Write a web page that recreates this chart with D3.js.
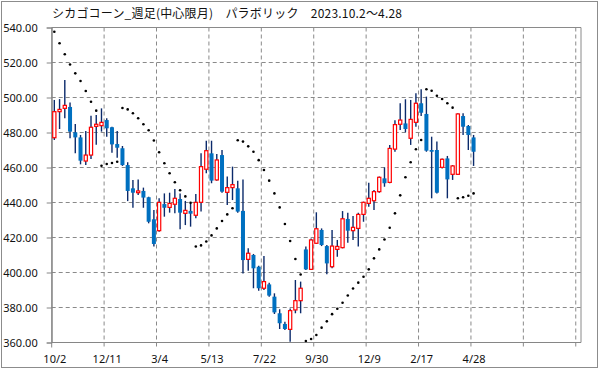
<!DOCTYPE html>
<html><head><meta charset="utf-8">
<script src="https://cdn.jsdelivr.net/npm/d3@7"></script>
<style>body{margin:0;background:#fff}svg{display:block}</style>
</head><body>
<svg id="c" width="599" height="369"></svg>
<script>
const openV =[477.0,491.9,493.8,494.6,480.1,477.2,463.7,467.1,483.5,483.9,487.1,483.0,473.4,471.0,461.4,448.1,445.6,446.6,443.0,430.4,423.9,439.1,437.2,439.0,442.0,433.8,435.2,432.7,440.1,459.0,468.1,452.9,467.1,445.8,448.5,448.1,435.2,407.5,410.0,403.3,391.0,393.2,386.2,376.7,370.6,367.5,378.6,383.9,413.2,401.8,416.7,424.3,415.1,403.3,413.2,414.2,430.6,423.9,425.2,433.2,439.5,441.0,446.2,453.8,451.5,470.5,484.7,485.2,476.7,485.8,496.7,490.6,470.0,470.0,460.1,465.2,456.1,456.1,489.4,483.7,477.2];
const highV =[498.6,499.1,510.0,497.2,484.9,478.6,480.9,489.6,490.0,493.8,488.1,483.3,480.9,472.3,463.0,452.9,453.2,448.5,443.3,435.7,442.4,445.2,445.6,447.7,445.2,440.9,439.5,444.9,468.1,475.3,475.3,467.7,470.0,454.8,460.5,452.5,453.2,413.8,410.6,403.8,409.4,394.2,388.1,379.0,371.9,379.5,395.7,394.8,414.8,419.5,434.4,425.2,415.7,424.3,418.6,435.1,434.2,432.3,434.2,440.5,451.3,447.1,454.8,460.1,472.9,487.0,496.7,499.0,498.6,502.4,504.7,500.5,477.6,474.8,465.2,466.6,461.4,491.0,491.0,484.3,478.6];
const lowV  =[475.7,482.0,488.1,476.7,468.1,461.8,461.4,464.9,473.0,480.5,477.6,468.5,465.6,460.9,440.8,437.0,444.3,437.0,428.1,414.8,423.3,431.9,434.2,433.8,424.7,427.1,426.2,431.0,434.8,456.7,451.0,452.5,445.6,438.6,441.4,434.2,399.5,401.0,391.0,389.6,390.0,386.2,376.3,367.7,367.1,360.5,376.7,376.7,401.4,401.4,416.3,415.1,399.0,402.4,409.0,413.8,417.0,418.6,414.8,429.0,437.6,435.7,445.6,449.0,451.0,469.0,481.4,480.1,472.9,483.3,489.4,469.0,442.4,445.2,459.5,442.4,452.9,455.7,478.6,470.0,460.9];
const closeV=[491.9,493.2,495.5,480.5,477.2,463.9,467.1,483.0,484.7,485.8,482.4,473.2,471.3,461.4,446.6,445.6,446.6,442.8,429.0,416.3,440.1,437.0,439.5,442.4,434.2,435.5,433.6,440.1,460.5,469.6,452.5,464.3,446.2,448.5,450.2,434.8,407.1,411.0,402.4,391.0,394.8,386.8,377.2,371.0,367.7,378.2,383.9,391.0,401.8,418.6,425.0,415.7,405.2,415.1,414.9,430.7,423.9,425.8,433.2,440.1,442.4,446.2,454.4,451.0,470.9,484.5,487.1,482.0,487.5,496.7,491.3,469.6,469.0,445.6,464.7,453.2,460.9,490.6,483.3,478.6,469.0];
const sarV  =[537.6,531.0,524.7,518.9,513.8,509.4,503.7,497.6,492.5,461.0,462.0,462.6,463.3,494.0,493.2,491.0,488.1,484.7,481.3,475.4,468.7,462.4,456.7,451.6,447.0,443.5,439.8,414.9,415.5,417.7,421.2,425.2,429.4,433.2,436.7,475.6,474.8,472.1,469.0,464.2,458.6,452.5,445.2,437.2,427.7,418.0,407.7,398.9,360.9,362.0,364.3,368.5,372.1,376.2,379.3,382.7,386.9,390.9,394.2,397.6,401.8,408.1,413.2,418.9,425.6,433.8,444.1,454.4,463.0,470.4,475.7,504.7,503.9,501.0,499.1,496.7,494.2,442.4,443.0,443.9,445.2];
const tickLabels=["10/2","12/11","3/4","5/13","7/22","9/30","12/9","2/17","4/28"];
const yTicks=[360,380,400,420,440,460,480,500,520,540];
const titleText="シカゴコーン_週足(中心限月)　パラボリック　2023.10.2～4.28";

const svg=d3.select("#c");
const L=51.7,R=581,T=27.5,B=342.5;
const nSlots=101;
const x=d3.scaleBand().domain(d3.range(nSlots)).range([L,R]).padding(0);
const bw=x.bandwidth();
const cx=i=>x(i)+bw/2;
const y=d3.scaleLinear().domain([360,540]).range([B,T]);
const grid="#8a8a8a";

svg.append("rect").attr("x",1.5).attr("y",1.5).attr("width",596).attr("height",366)
  .attr("fill","#fff").attr("stroke","#8c8c8c");

svg.append("text").attr("x",52).attr("y",18).attr("font-family","'Noto Sans CJK JP'")
  .attr("font-size",12).attr("fill","#111")
  .attr("textLength",350).attr("lengthAdjust","spacing").text(titleText);

// horizontal grid
svg.append("g").selectAll("line").data(yTicks.filter(v=>v>360&&v<540)).join("line")
  .attr("x1",L).attr("x2",R).attr("y1",d=>y(d)).attr("y2",d=>y(d))
  .attr("stroke",grid).attr("stroke-dasharray","4,3");
// vertical grid
const vIdx=d3.range(10,nSlots,10);
svg.append("g").selectAll("line").data(vIdx).join("line")
  .attr("x1",d=>x(d)).attr("x2",d=>x(d)).attr("y1",T).attr("y2",B+4)
  .attr("stroke",grid).attr("stroke-dasharray","4,3");
// plot border top/right
svg.append("path").attr("d",`M${L},${T}H${R}V${B}`).attr("fill","none").attr("stroke",grid);

// y axis
const yAxis=d3.axisLeft(y).tickValues(yTicks).tickFormat(d3.format(".2f")).tickSize(5).tickPadding(9);
const gy=svg.append("g").attr("transform",`translate(${L},0)`).call(yAxis);
gy.select(".domain").attr("stroke","#868686");
gy.selectAll(".tick line").attr("stroke","#868686");
gy.selectAll("text").attr("font-family","'Noto Sans'").attr("font-size",11).attr("fill","#111");

// x axis
const xIdx=tickLabels.map((d,i)=>i*10);
const xs=d3.scalePoint().domain(xIdx).range([cx(0),cx(80)]);
const xAxis=d3.axisBottom(xs).tickFormat((d,i)=>tickLabels[i]).tickSize(0).tickPadding(13);
const gx=svg.append("g").attr("transform",`translate(0,${B})`).call(xAxis);
gx.select(".domain").remove();
gx.selectAll("text").attr("font-family","'Noto Sans'").attr("font-size",11).attr("fill","#111");
svg.append("line").attr("x1",L).attr("x2",R).attr("y1",B).attr("y2",B).attr("stroke","#868686");
svg.append("line").attr("x1",L).attr("x2",L).attr("y1",T).attr("y2",B+5).attr("stroke","#868686");

const idx=d3.range(openV.length);
// wicks
svg.append("g").selectAll("line").data(idx).join("line")
  .attr("x1",cx).attr("x2",cx).attr("y1",i=>y(highV[i])).attr("y2",i=>y(lowV[i]))
  .attr("stroke","#0b2a6b").attr("stroke-width",1.4);
// bodies
svg.append("g").selectAll("rect").data(idx).join("rect")
  .each(function(i){
    const up=closeV[i]>=openV[i];
    const top=y(Math.max(openV[i],closeV[i])), bot=y(Math.min(openV[i],closeV[i]));
    const s=d3.select(this);
    if(up){
      s.attr("x",cx(i)-1.6).attr("width",3.2).attr("y",top).attr("height",Math.max(bot-top,1.2))
       .attr("fill","#fff").attr("stroke","#ff0000").attr("stroke-width",1.2);
    }else{
      s.attr("x",cx(i)-2).attr("width",4).attr("y",top).attr("height",Math.max(bot-top,1.2))
       .attr("fill","#0070c0");
    }
  });
// SAR
svg.append("g").selectAll("circle").data(idx).join("circle")
  .attr("cx",cx).attr("cy",i=>y(sarV[i])).attr("r",1.3).attr("fill","#000");
</script>
</body></html>
